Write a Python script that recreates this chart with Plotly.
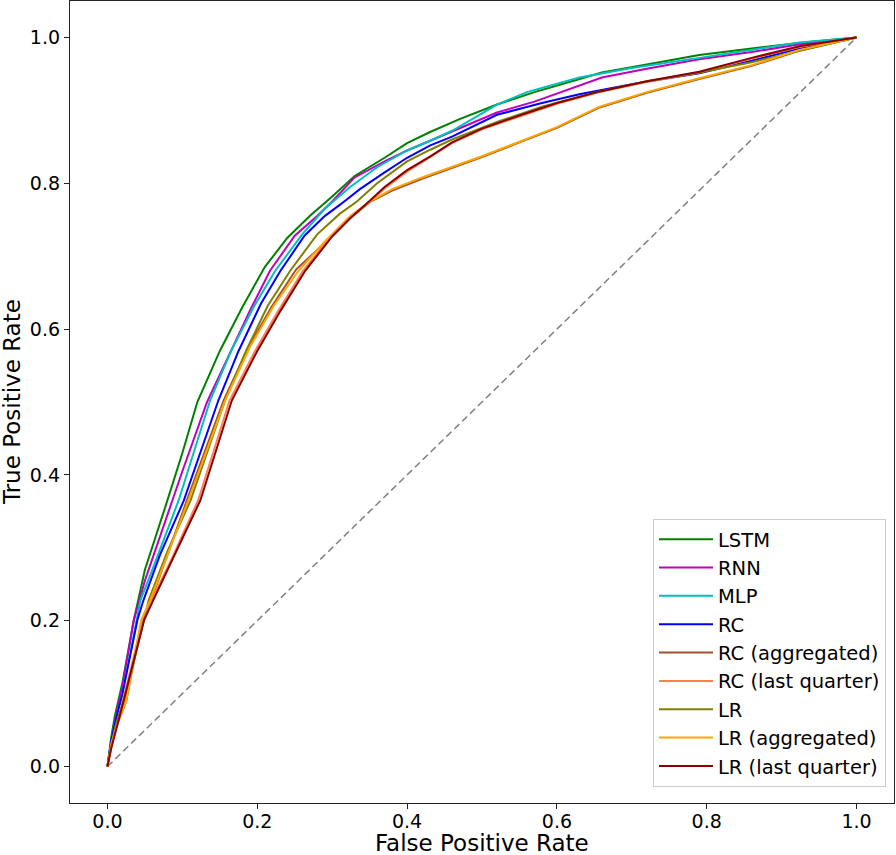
import plotly.graph_objects as go

# ---- data (FPR, TPR) ----
lstm_fpr = [0, 0.005, 0.01, 0.02, 0.035, 0.05, 0.08, 0.10, 0.12, 0.15, 0.18, 0.21, 0.24, 0.27, 0.30, 0.33, 0.37, 0.40, 0.43, 0.47, 0.52, 0.57, 0.62, 0.66, 0.72, 0.79, 0.86, 0.92, 1.0]
lstm_tpr = [0, 0.04, 0.07, 0.115, 0.2, 0.27, 0.365, 0.43, 0.50, 0.57, 0.63, 0.685, 0.725, 0.755, 0.782, 0.81, 0.835, 0.855, 0.87, 0.888, 0.908, 0.925, 0.94, 0.952, 0.963, 0.976, 0.985, 0.992, 1.0]

rnn_fpr = [0, 0.005, 0.01, 0.02, 0.035, 0.05, 0.086, 0.10, 0.133, 0.16, 0.19, 0.217, 0.25, 0.28, 0.30, 0.33, 0.37, 0.40, 0.43, 0.47, 0.52, 0.57, 0.62, 0.66, 0.72, 0.79, 0.86, 0.92, 1.0]
rnn_tpr = [0, 0.035, 0.064, 0.11, 0.2, 0.255, 0.365, 0.405, 0.50, 0.56, 0.625, 0.68, 0.728, 0.755, 0.775, 0.808, 0.83, 0.845, 0.858, 0.876, 0.897, 0.912, 0.93, 0.945, 0.957, 0.970, 0.98, 0.99, 1.0]

mlp_fpr = [0, 0.005, 0.01, 0.02, 0.044, 0.06, 0.095, 0.137, 0.165, 0.195, 0.224, 0.26, 0.29, 0.324, 0.36, 0.40, 0.43, 0.46, 0.52, 0.56, 0.63, 0.70, 0.79, 0.86, 0.924, 1.0]
mlp_tpr = [0, 0.035, 0.06, 0.10, 0.228, 0.27, 0.365, 0.502, 0.57, 0.63, 0.68, 0.73, 0.765, 0.795, 0.822, 0.845, 0.858, 0.872, 0.908, 0.925, 0.945, 0.958, 0.972, 0.983, 0.993, 1.0]

rc_fpr = [0, 0.005, 0.011, 0.02, 0.04, 0.048, 0.07, 0.102, 0.148, 0.175, 0.205, 0.231, 0.263, 0.29, 0.311, 0.337, 0.37, 0.40, 0.431, 0.46, 0.52, 0.58, 0.63, 0.70, 0.79, 0.86, 0.924, 1.0]
rc_tpr = [0, 0.035, 0.064, 0.10, 0.201, 0.228, 0.29, 0.365, 0.502, 0.57, 0.635, 0.68, 0.728, 0.755, 0.771, 0.792, 0.815, 0.835, 0.852, 0.864, 0.894, 0.91, 0.922, 0.936, 0.951, 0.968, 0.985, 1.0]

rc_agg_fpr = [0, 0.005, 0.012, 0.025, 0.046, 0.058, 0.08, 0.106, 0.155, 0.188, 0.22, 0.252, 0.29, 0.324, 0.35, 0.38, 0.42, 0.46, 0.50, 0.55, 0.60, 0.657, 0.72, 0.79, 0.86, 0.924, 1.0]
rc_agg_tpr = [0, 0.03, 0.055, 0.09, 0.201, 0.228, 0.29, 0.365, 0.502, 0.575, 0.632, 0.682, 0.718, 0.752, 0.774, 0.79, 0.806, 0.821, 0.836, 0.856, 0.876, 0.904, 0.924, 0.943, 0.961, 0.982, 1.0]

rc_lq_fpr = [0, 0.005, 0.014, 0.023, 0.047, 0.059, 0.088, 0.121, 0.163, 0.197, 0.228, 0.261, 0.298, 0.323, 0.348, 0.37, 0.40, 0.431, 0.46, 0.50, 0.55, 0.60, 0.657, 0.72, 0.79, 0.86, 0.924, 1.0]
rc_lq_tpr = [0, 0.025, 0.064, 0.10, 0.201, 0.228, 0.29, 0.365, 0.502, 0.57, 0.625, 0.68, 0.727, 0.752, 0.773, 0.793, 0.816, 0.836, 0.855, 0.874, 0.892, 0.909, 0.925, 0.939, 0.952, 0.971, 0.987, 1.0]

lr_fpr = [0, 0.005, 0.012, 0.025, 0.055, 0.08, 0.111, 0.157, 0.185, 0.214, 0.244, 0.28, 0.31, 0.333, 0.36, 0.40, 0.431, 0.46, 0.52, 0.58, 0.657, 0.72, 0.79, 0.86, 0.93, 1.0]
lr_tpr = [0, 0.03, 0.06, 0.10, 0.228, 0.295, 0.365, 0.502, 0.57, 0.632, 0.68, 0.73, 0.758, 0.775, 0.80, 0.83, 0.846, 0.860, 0.884, 0.905, 0.926, 0.94, 0.952, 0.966, 0.983, 1.0]

lr_agg_fpr = [0, 0.005, 0.012, 0.025, 0.045, 0.057, 0.08, 0.108, 0.157, 0.19, 0.222, 0.255, 0.29, 0.324, 0.35, 0.38, 0.42, 0.46, 0.50, 0.55, 0.60, 0.657, 0.72, 0.79, 0.86, 0.924, 1.0]
lr_agg_tpr = [0, 0.03, 0.055, 0.09, 0.201, 0.228, 0.29, 0.365, 0.502, 0.575, 0.632, 0.68, 0.72, 0.755, 0.775, 0.792, 0.808, 0.822, 0.837, 0.857, 0.877, 0.905, 0.925, 0.944, 0.962, 0.983, 1.0]

lr_lq_fpr = [0, 0.005, 0.015, 0.024, 0.049, 0.061, 0.09, 0.124, 0.166, 0.2, 0.231, 0.264, 0.30, 0.324, 0.348, 0.37, 0.40, 0.431, 0.46, 0.50, 0.55, 0.60, 0.657, 0.72, 0.79, 0.86, 0.924, 1.0]
lr_lq_tpr = [0, 0.025, 0.064, 0.10, 0.201, 0.228, 0.29, 0.365, 0.502, 0.57, 0.625, 0.68, 0.727, 0.752, 0.774, 0.795, 0.818, 0.837, 0.856, 0.875, 0.893, 0.91, 0.926, 0.94, 0.953, 0.972, 0.988, 1.0]

chance_fpr = [0, 1]
chance_tpr = [0, 1]

series_names = ["LSTM", "RNN", "MLP", "RC", "RC (aggregated)", "RC (last quarter)",
                "LR", "LR (aggregated)", "LR (last quarter)"]
series_fpr = [lstm_fpr, rnn_fpr, mlp_fpr, rc_fpr, rc_agg_fpr, rc_lq_fpr, lr_fpr, lr_agg_fpr, lr_lq_fpr]
series_tpr = [lstm_tpr, rnn_tpr, mlp_tpr, rc_tpr, rc_agg_tpr, rc_lq_tpr, lr_tpr, lr_agg_tpr, lr_lq_tpr]
series_colors = ["#008000", "#BF00BF", "#00BFBF", "#0000FF", "#A0522D", "#FF7F50",
                 "#808000", "#FFA500", "#8B0000"]

tick_vals = [0.0, 0.2, 0.4, 0.6, 0.8, 1.0]
tick_text = ["0.0", "0.2", "0.4", "0.6", "0.8", "1.0"]
x_title = "False Positive Rate"
y_title = "True Positive Rate"

FONT = "DejaVu Sans"

fig = go.Figure()
fig.add_trace(go.Scatter(x=chance_fpr, y=chance_tpr, mode="lines",
                         line=dict(color="#808080", width=1.5, dash="7px,4px"),
                         showlegend=False, hoverinfo="skip"))
for name, fx, ty, col in zip(series_names, series_fpr, series_tpr, series_colors):
    fig.add_trace(go.Scatter(x=fx, y=ty, mode="lines", name=name,
                             line=dict(color=col, width=2)))

axis_common = dict(
    range=[-0.05, 1.05], tickvals=tick_vals, ticktext=tick_text,
    showgrid=False, zeroline=False, showline=True, mirror=True,
    linecolor="#222222", linewidth=1.3, ticks="outside", ticklen=5,
    tickcolor="#222222", tickwidth=1.2, automargin=False,
    tickfont=dict(family=FONT, size=19, color="black"),
)

fig.update_layout(
    width=896, height=855,
    margin=dict(l=70, r=2, t=1, b=52, autoexpand=False),
    paper_bgcolor="white", plot_bgcolor="white",
    xaxis=dict(**axis_common, ticklabelstandoff=-4),
    yaxis=dict(**axis_common),
    legend=dict(x=0.9903, y=0.02, xanchor="right", yanchor="bottom",
                bgcolor="white", bordercolor="#CCCCCC", borderwidth=1,
                font=dict(family=FONT, size=19.5, color="black"),
                itemwidth=54, traceorder="normal"),
    showlegend=True,
    annotations=[
        dict(text=x_title, xref="paper", yref="paper", x=0.5, y=0,
             xanchor="center", yanchor="middle", yshift=-40, showarrow=False,
             font=dict(family=FONT, size=23, color="black")),
        dict(text=y_title, xref="paper", yref="paper", x=0, y=0.5,
             xanchor="center", yanchor="middle", xshift=-58, textangle=-90,
             showarrow=False, font=dict(family=FONT, size=23, color="black")),
    ],
)

fig.write_html("out.html", config={"displayModeBar": False},
               post_script="document.body.style.margin='0px';")
